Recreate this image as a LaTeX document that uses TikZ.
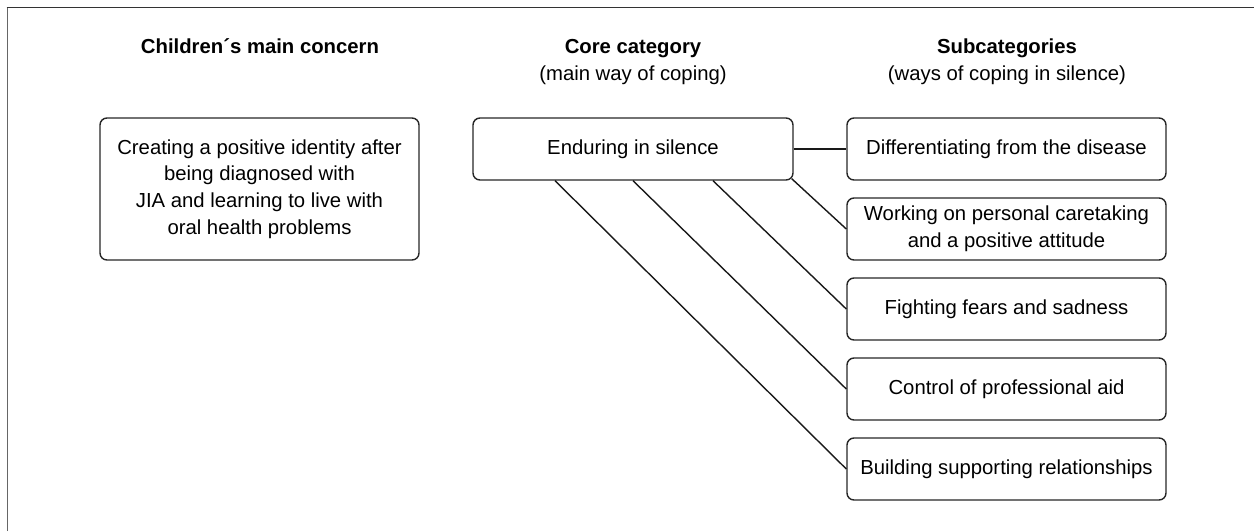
\documentclass[tikz,border=0pt]{standalone}
\usepackage{fontspec}
\setmainfont{Liberation Sans}
\begin{document}
\begin{tikzpicture}[x=1pt,y=-1pt,
  txt/.style={font=\fontsize{20.3}{26.6}\selectfont},
  box/.style={draw=black!85,line width=1.4pt,rounded corners=7pt,align=center,
    inner sep=0pt,txt},
  subbox/.style={box,minimum width=319pt,minimum height=62pt},
  head/.style={align=center,inner sep=0pt,txt,anchor=base},
  link/.style={draw=black!90,line width=1.4pt}]
\useasboundingbox (0,0) rectangle (1254,531);
\draw[line width=1.6pt,black!60] (7.5,531) -- (7.5,7.5);
\draw[line width=1.6pt,black!80] (6.7,7.5) -- (1254,7.5);

\node[head] (h1) at (260,53) {\textbf{Children´s main concern}};
\node[head] (h2) at (633,53) {\textbf{Core category}};
\node[head] (h2b) at (633,80) {(main way of coping)};
\node[head] (h3) at (1007,53) {\textbf{Subcategories}};
\node[head] (h3b) at (1007,80) {(ways of coping in silence)};

\node[box,minimum width=319pt,minimum height=142pt] (mc) at (259.5,189)
  {Creating a positive identity after\\being diagnosed with\\JIA and learning to live with\\oral health problems};
\node[box,minimum width=320pt,minimum height=62pt] (core) at (633,149) {Enduring in silence};

\node[subbox] (s1) at (1006.5,149) {Differentiating from the disease};
\node[subbox] (s2) at (1006.5,229) {Working on personal caretaking\\and a positive attitude};
\node[subbox] (s3) at (1006.5,309) {Fighting fears and sadness};
\node[subbox] (s4) at (1006.5,389) {Control of professional aid};
\node[subbox] (s5) at (1006.5,469) {Building supporting relationships};

\draw[link] (core.east) -- (s1.west);
\draw[link] ([xshift=-2pt,yshift=2pt]core.south east) -- (s2.west);
\draw[link] ([xshift=80pt]core.south) -- (s3.west);
\draw[link] (core.south) -- (s4.west);
\draw[link] ([xshift=-78pt]core.south) -- (s5.west);
\end{tikzpicture}
\end{document}
